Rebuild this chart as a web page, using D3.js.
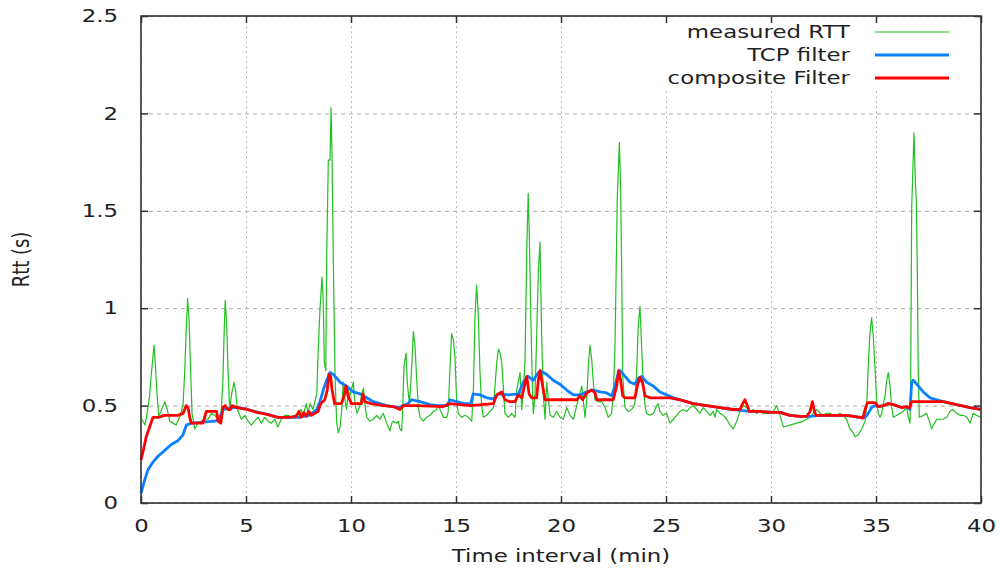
<!DOCTYPE html>
<html>
<head>
<meta charset="utf-8">
<script src="https://cdn.jsdelivr.net/npm/d3@7"></script>
<style>
  body { margin: 0; background: #fff; }
  text { font-family: "DejaVu Sans", sans-serif; fill: #222; }
  .grid line { stroke: #a8a8a8; stroke-width: 1; }
  .grid path { display: none; }
  .ax path { display: none; }
  .ax line { stroke: #333; stroke-width: 1.5; }
</style>
</head>
<body>
<svg width="999" height="571"></svg>
<script>
// measured RTT samples [minute, seconds]
var measured = [
  [0.00,0.43],[0.10,0.42],[0.19,0.40],[0.29,0.46],[0.41,0.55],[0.48,0.65],[0.57,0.75],[0.62,0.81],
  [0.68,0.72],[0.75,0.58],[0.84,0.45],[0.95,0.47],[1.13,0.52],[1.25,0.48],[1.37,0.42],[1.52,0.41],
  [1.67,0.40],[1.84,0.44],[2.00,0.50],[2.08,0.67],[2.16,0.91],[2.22,1.05],[2.29,0.94],[2.35,0.72],
  [2.43,0.46],[2.56,0.38],[2.71,0.41],[2.87,0.42],[3.03,0.43],[3.19,0.43],[3.35,0.46],[3.51,0.45],
  [3.67,0.43],[3.82,0.47],[3.90,0.63],[3.95,0.84],[4.01,1.04],[4.08,0.92],[4.14,0.70],[4.22,0.48],
  [4.30,0.55],[4.43,0.62],[4.51,0.57],[4.59,0.48],[4.78,0.43],[4.94,0.45],[5.10,0.42],[5.25,0.40],
  [5.41,0.42],[5.57,0.44],[5.73,0.41],[5.89,0.44],[6.05,0.42],[6.21,0.41],[6.37,0.43],[6.52,0.39],
  [6.68,0.43],[6.84,0.45],[7.00,0.45],[7.16,0.44],[7.32,0.45],[7.48,0.46],[7.63,0.48],[7.71,0.44],
  [7.87,0.51],[7.95,0.46],[8.05,0.51],[8.19,0.48],[8.37,0.56],[8.44,0.79],[8.52,0.99],[8.62,1.16],
  [8.68,1.03],[8.73,0.72],[8.80,0.68],[8.84,1.25],[8.92,1.76],[9.00,1.76],[9.05,2.03],[9.10,1.76],
  [9.16,1.23],[9.24,0.65],[9.32,0.41],[9.40,0.36],[9.48,0.39],[9.56,0.48],[9.63,0.62],[9.71,0.53],
  [9.79,0.48],[9.87,0.58],[9.95,0.55],[10.11,0.62],[10.19,0.51],[10.29,0.46],[10.43,0.50],[10.51,0.56],
  [10.59,0.59],[10.67,0.50],[10.75,0.44],[10.90,0.42],[11.06,0.43],[11.22,0.45],[11.38,0.43],[11.54,0.46],
  [11.70,0.41],[11.78,0.39],[11.86,0.37],[11.94,0.41],[12.01,0.42],[12.18,0.41],[12.25,0.42],[12.33,0.38],
  [12.41,0.37],[12.46,0.47],[12.52,0.70],[12.62,0.77],[12.68,0.62],[12.78,0.51],[12.84,0.60],[12.90,0.72],
  [12.97,0.88],[13.05,0.80],[13.13,0.63],[13.21,0.49],[13.29,0.44],[13.44,0.42],[13.60,0.44],[13.76,0.45],
  [13.92,0.47],[14.08,0.48],[14.16,0.50],[14.24,0.48],[14.40,0.44],[14.56,0.44],[14.63,0.47],[14.71,0.68],
  [14.79,0.87],[14.87,0.84],[14.95,0.75],[15.03,0.53],[15.11,0.46],[15.27,0.44],[15.43,0.45],[15.59,0.44],
  [15.75,0.42],[15.83,0.59],[15.90,0.94],[15.98,1.12],[16.06,0.97],[16.14,0.68],[16.22,0.50],[16.30,0.44],
  [16.46,0.45],[16.62,0.47],[16.78,0.49],[16.94,0.72],[17.02,0.79],[17.10,0.77],[17.18,0.72],[17.25,0.60],
  [17.33,0.46],[17.49,0.44],[17.65,0.46],[17.81,0.44],[17.89,0.58],[18.05,0.67],[18.13,0.48],[18.21,0.58],
  [18.29,0.74],[18.37,1.30],[18.44,1.59],[18.49,1.38],[18.56,0.98],[18.62,0.67],[18.68,0.46],[18.76,0.55],
  [18.84,0.85],[18.92,1.19],[19.00,1.34],[19.08,0.85],[19.16,0.55],[19.24,0.43],[19.32,0.62],[19.40,0.53],
  [19.48,0.45],[19.63,0.44],[19.79,0.47],[19.95,0.44],[20.11,0.43],[20.27,0.49],[20.43,0.45],[20.59,0.43],
  [20.75,0.50],[20.90,0.56],[20.99,0.60],[21.06,0.53],[21.14,0.44],[21.22,0.52],[21.30,0.70],[21.38,0.81],
  [21.46,0.74],[21.54,0.62],[21.62,0.53],[21.78,0.52],[21.94,0.52],[22.10,0.49],[22.25,0.44],[22.41,0.46],
  [22.49,0.56],[22.57,0.80],[22.68,1.56],[22.78,1.85],[22.84,1.62],[22.89,1.18],[22.94,0.65],[23.05,0.49],
  [23.20,0.47],[23.37,0.48],[23.52,0.51],[23.60,0.67],[23.68,0.91],[23.76,1.01],[23.84,0.80],[23.92,0.60],
  [24.00,0.50],[24.08,0.46],[24.24,0.45],[24.40,0.46],[24.56,0.50],[24.63,0.51],[24.71,0.47],[24.87,0.45],
  [25.03,0.46],[25.19,0.41],[25.35,0.43],[25.51,0.45],[25.67,0.47],[25.82,0.48],[25.99,0.47],[26.14,0.49],
  [26.30,0.50],[26.46,0.48],[26.62,0.46],[26.78,0.49],[26.94,0.47],[27.10,0.45],[27.25,0.47],[27.33,0.44],
  [27.41,0.48],[27.57,0.46],[27.73,0.45],[27.89,0.43],[28.05,0.40],[28.20,0.38],[28.37,0.42],[28.52,0.47],
  [28.68,0.50],[28.84,0.49],[29.00,0.47],[29.16,0.48],[29.32,0.46],[29.48,0.47],[29.63,0.46],[29.79,0.46],
  [29.95,0.46],[30.11,0.47],[30.27,0.50],[30.43,0.45],[30.59,0.39],[30.90,0.40],[31.22,0.41],[31.54,0.42],
  [31.86,0.44],[32.01,0.46],[32.18,0.48],[32.33,0.46],[32.49,0.45],[32.65,0.46],[32.81,0.46],[32.97,0.45],
  [33.13,0.45],[33.29,0.46],[33.44,0.45],[33.60,0.43],[33.76,0.38],[33.92,0.36],[34.00,0.34],[34.16,0.35],
  [34.32,0.38],[34.48,0.42],[34.56,0.50],[34.63,0.70],[34.71,0.87],[34.79,0.95],[34.87,0.86],[34.95,0.70],
  [35.03,0.53],[35.11,0.46],[35.19,0.44],[35.27,0.46],[35.35,0.51],[35.43,0.55],[35.51,0.63],[35.59,0.67],
  [35.67,0.60],[35.75,0.49],[35.83,0.44],[35.99,0.45],[36.14,0.46],[36.30,0.47],[36.46,0.49],[36.54,0.44],
  [36.62,0.41],[36.65,0.60],[36.70,1.52],[36.81,1.90],[36.87,1.66],[36.92,1.55],[36.97,1.17],[37.01,0.68],
  [37.06,0.44],[37.25,0.45],[37.41,0.46],[37.57,0.41],[37.65,0.38],[37.73,0.40],[37.89,0.43],[38.05,0.43],
  [38.20,0.43],[38.37,0.44],[38.52,0.47],[38.65,0.48],[38.84,0.46],[39.00,0.45],[39.16,0.45],[39.32,0.44],
  [39.48,0.41],[39.63,0.46],[39.79,0.45],[39.95,0.44]
];

// TCP filter estimate
var tcpFilter = [
  [0.00,0.05],[0.18,0.12],[0.33,0.17],[0.57,0.21],[0.81,0.24],[1.13,0.27],[1.44,0.30],[1.76,0.32],
  [2.00,0.35],[2.16,0.40],[2.40,0.41],[2.95,0.415],[3.51,0.42],[3.75,0.43],[3.90,0.48],[4.14,0.485],
  [4.46,0.49],[4.60,0.49],[5.10,0.48],[5.57,0.465],[6.05,0.455],[6.52,0.44],[7.00,0.44],[7.50,0.44],
  [8.00,0.45],[8.37,0.48],[8.52,0.52],[8.68,0.58],[8.84,0.63],[9.00,0.67],[9.16,0.66],[9.48,0.62],
  [9.79,0.60],[10.11,0.57],[10.43,0.56],[10.75,0.54],[11.06,0.52],[11.38,0.51],[11.70,0.50],[12.00,0.495],
  [12.33,0.49],[12.50,0.50],[12.70,0.51],[12.89,0.53],[13.29,0.52],[13.76,0.505],[14.20,0.50],[14.57,0.50],
  [14.71,0.53],[15.03,0.52],[15.35,0.51],[15.70,0.51],[15.82,0.56],[16.14,0.555],[16.46,0.54],[16.78,0.535],
  [17.02,0.56],[17.49,0.555],[17.97,0.56],[18.20,0.62],[18.44,0.65],[18.68,0.63],[18.92,0.67],[19.08,0.675],
  [19.32,0.66],[19.63,0.63],[19.95,0.61],[20.27,0.58],[20.59,0.555],[20.90,0.555],[21.22,0.57],[21.54,0.58],
  [21.86,0.57],[22.18,0.565],[22.41,0.55],[22.57,0.60],[22.73,0.67],[22.81,0.68],[23.05,0.65],[23.29,0.62],
  [23.52,0.61],[23.68,0.64],[23.84,0.65],[24.08,0.62],[24.40,0.60],[24.71,0.57],[25.03,0.555],[25.35,0.54],
  [25.67,0.53],[26.30,0.51],[26.94,0.50],[27.57,0.49],[28.20,0.48],[28.52,0.475],[29.00,0.47],[29.48,0.47],
  [30.11,0.465],[30.43,0.465],[30.90,0.45],[31.38,0.445],[31.86,0.445],[32.33,0.45],[33.60,0.45],[34.24,0.44],
  [34.48,0.44],[34.63,0.46],[34.79,0.49],[34.95,0.50],[35.11,0.495],[35.35,0.50],[35.59,0.51],[35.83,0.505],
  [36.22,0.49],[36.46,0.495],[36.62,0.48],[36.70,0.62],[36.78,0.63],[36.94,0.61],[37.10,0.59],[37.25,0.57],
  [37.41,0.555],[37.57,0.54],[37.89,0.53],[38.20,0.52],[38.84,0.505],[39.48,0.49],[40.00,0.48]
];

// composite filter estimate
var compositeFilter = [
  [0.00,0.22],[0.11,0.27],[0.25,0.34],[0.41,0.39],[0.57,0.44],[0.81,0.44],[1.13,0.45],[1.44,0.45],
  [1.76,0.45],[2.00,0.46],[2.16,0.50],[2.24,0.49],[2.32,0.44],[2.40,0.41],[2.71,0.41],[2.95,0.41],
  [3.11,0.47],[3.35,0.47],[3.60,0.47],[3.67,0.42],[3.80,0.41],[3.90,0.49],[4.01,0.50],[4.14,0.48],
  [4.25,0.48],[4.33,0.50],[4.57,0.49],[5.05,0.48],[5.52,0.465],[6.00,0.455],[6.52,0.44],[7.00,0.44],
  [7.40,0.445],[7.52,0.47],[7.63,0.44],[7.76,0.465],[7.87,0.445],[7.99,0.47],[8.11,0.45],[8.43,0.47],
  [8.56,0.51],[8.75,0.53],[8.87,0.58],[8.95,0.66],[9.03,0.65],[9.10,0.58],[9.22,0.51],[9.54,0.51],
  [9.67,0.55],[9.76,0.60],[9.86,0.55],[10.02,0.51],[10.50,0.51],[10.56,0.56],[10.67,0.52],[10.95,0.51],
  [11.54,0.50],[12.02,0.495],[12.33,0.48],[12.49,0.50],[13.13,0.50],[14.40,0.495],[14.71,0.51],[15.67,0.50],
  [16.78,0.51],[16.94,0.555],[17.18,0.57],[17.33,0.53],[17.57,0.52],[17.81,0.52],[17.97,0.555],[18.13,0.54],
  [18.29,0.615],[18.37,0.65],[18.48,0.56],[18.60,0.54],[18.84,0.54],[18.92,0.63],[19.00,0.68],[19.08,0.63],
  [19.24,0.53],[20.19,0.53],[20.75,0.53],[20.90,0.55],[21.03,0.53],[21.22,0.565],[21.46,0.58],[21.62,0.565],
  [21.70,0.53],[22.49,0.53],[22.65,0.60],[22.75,0.68],[22.84,0.63],[22.94,0.55],[23.05,0.54],[23.52,0.54],
  [23.63,0.60],[23.76,0.645],[23.89,0.615],[24.00,0.55],[24.24,0.54],[25.19,0.54],[25.67,0.53],[26.30,0.51],
  [26.94,0.50],[27.57,0.49],[28.20,0.48],[28.52,0.48],[28.65,0.51],[28.76,0.53],[28.87,0.50],[28.97,0.47],
  [29.48,0.47],[30.11,0.465],[30.43,0.465],[30.90,0.45],[31.38,0.445],[31.70,0.445],[31.86,0.47],[31.97,0.52],
  [32.06,0.475],[32.14,0.45],[32.81,0.45],[33.60,0.45],[34.24,0.44],[34.37,0.435],[34.48,0.48],[34.59,0.515],
  [34.95,0.515],[35.11,0.495],[35.35,0.50],[35.59,0.51],[35.83,0.505],[36.22,0.49],[36.46,0.495],[36.59,0.487],
  [36.70,0.52],[37.10,0.52],[38.20,0.52],[38.84,0.505],[39.48,0.49],[40.00,0.48]
];

var xTicks = [0, 5, 10, 15, 20, 25, 30, 35, 40];
var yTicks = [0, 0.5, 1, 1.5, 2, 2.5];
var seriesNames = ["measured RTT", "TCP filter", "composite Filter"];
var seriesColors = ["#22c022", "#0a80ff", "#ff0000"];
var seriesWidths = [1.2, 2.8, 2.8];

var svg = d3.select("svg"),
    margin = {top: 16, right: 18, bottom: 68, left: 141},
    width = +svg.attr("width") - margin.left - margin.right,
    height = +svg.attr("height") - margin.top - margin.bottom;

var stretch = 1.27; // the text in the picture is wide

var x = d3.scaleLinear().domain([0, 40]).range([0, width]);
var y = d3.scaleLinear().domain([0, 2.5]).range([height, 0]);

var g = svg.append("g")
    .attr("transform", "translate(" + margin.left + "," + margin.top + ")");

// grid
g.append("g")
    .attr("class", "grid")
    .attr("transform", "translate(0," + height + ")")
    .call(d3.axisBottom(x).tickValues(xTicks).tickSize(-height).tickFormat(""))
    .selectAll("line").attr("stroke-dasharray", "1.5,3.5");
g.append("g")
    .attr("class", "grid")
    .call(d3.axisLeft(y).tickValues(yTicks).tickSize(-width).tickFormat(""))
    .selectAll("line").attr("stroke-dasharray", "4,4");

// key area hides the grid
g.append("rect")
    .attr("x", x(24.8)).attr("y", 6)
    .attr("width", width - x(24.8) - 3).attr("height", 66)
    .attr("fill", "#fff");

var line = d3.line()
    .x(function(d) { return x(d[0]); })
    .y(function(d) { return y(d[1]); });

var all = [measured, tcpFilter, compositeFilter];
all.forEach(function(data, i) {
  g.append("path")
      .datum(data)
      .attr("fill", "none")
      .attr("stroke", seriesColors[i])
      .attr("stroke-width", seriesWidths[i])
      .attr("stroke-linejoin", "round")
      .attr("d", line);
});

// axes with inward ticks on all sides
var xAxis = g.append("g")
    .attr("class", "ax")
    .attr("transform", "translate(0," + height + ")")
    .call(d3.axisBottom(x).tickValues(xTicks).tickSize(-7).tickFormat(function(d) { return d; }));
xAxis.selectAll("text")
    .attr("y", null).attr("dy", null)
    .attr("transform", "translate(0,29) scale(" + stretch + ",1)")
    .style("font-size", "18px").attr("fill", "#222");

var yAxis = g.append("g")
    .attr("class", "ax")
    .call(d3.axisLeft(y).tickValues(yTicks).tickSize(-7).tickFormat(function(d) { return d; }));
yAxis.selectAll("text")
    .attr("x", null)
    .attr("transform", "translate(-23,0) scale(" + stretch + ",1)")
    .style("font-size", "18px").attr("fill", "#222");

g.append("g").attr("class", "ax")
    .call(d3.axisTop(x).tickValues(xTicks).tickSize(-7).tickFormat(""));
g.append("g").attr("class", "ax")
    .attr("transform", "translate(" + width + ",0)")
    .call(d3.axisRight(y).tickValues(yTicks).tickSize(-7).tickFormat(""));

g.append("rect")
    .attr("width", width).attr("height", height)
    .attr("fill", "none").attr("stroke", "#333").attr("stroke-width", 1.6);

// axis titles
svg.append("text")
    .attr("transform", "translate(" + (margin.left + width / 2) + ",562) scale(" + stretch + ",1)")
    .attr("text-anchor", "middle")
    .style("font-size", "18px")
    .text("Time interval (min)");
svg.append("text")
    .attr("transform", "translate(29," + (margin.top + height / 2) + ") rotate(-90) scale(1," + stretch + ")")
    .attr("text-anchor", "middle")
    .style("font-size", "18px")
    .text("Rtt (s)");

// key
var key = svg.append("g").attr("transform", "translate(850,32)");
seriesNames.forEach(function(name, i) {
  var row = key.append("g").attr("transform", "translate(0," + (i * 23) + ")");
  row.append("text")
      .attr("transform", "translate(0,6) scale(" + stretch + ",1)")
      .attr("text-anchor", "end")
      .style("font-size", "18px")
      .text(name);
  row.append("line")
      .attr("x1", 25).attr("x2", 99)
      .attr("stroke", seriesColors[i])
      .attr("stroke-width", seriesWidths[i]);
});
</script>
</body>
</html>
